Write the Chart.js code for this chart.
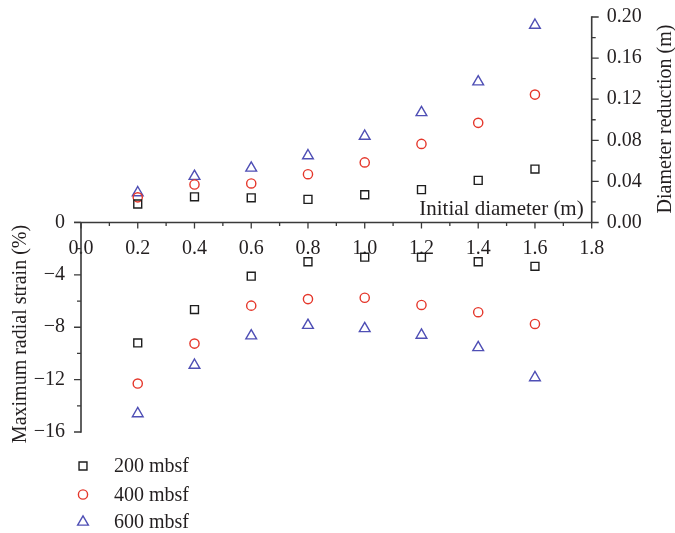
<!DOCTYPE html>
<html>
<head>
<meta charset="utf-8">
<script src="https://cdn.jsdelivr.net/npm/chart.js@4.4.1/dist/chart.umd.min.js"></script>
<style>
  html, body { margin: 0; padding: 0; background: #fff; }
</style>
</head>
<body>
<canvas id="chart" width="675" height="533"></canvas>
<script>
// Initial diameter (m)
const diameters = [0.2, 0.4, 0.6, 0.8, 1.0, 1.2, 1.4, 1.6];

// Diameter reduction (m), right axis
const reduction200 = [0.018, 0.025, 0.024, 0.0225, 0.027, 0.032, 0.041, 0.052];
const reduction400 = [0.0245, 0.037, 0.038, 0.047, 0.0585, 0.0765, 0.097, 0.1245];
const reduction600 = [0.029, 0.045, 0.053, 0.065, 0.084, 0.107, 0.137, 0.192];

// Maximum radial strain (%), left axis
const strain200 = [-9.2, -6.65, -4.1, -3.0, -2.65, -2.65, -3.0, -3.35];
const strain400 = [-12.3, -9.25, -6.35, -5.85, -5.75, -6.3, -6.85, -7.75];
const strain600 = [-14.6, -10.9, -8.65, -7.85, -8.1, -8.6, -9.55, -11.85];

const seriesNames = ["200 mbsf", "400 mbsf", "600 mbsf"];

// Ticks
const xTicks = [0, 0.2, 0.4, 0.6, 0.8, 1.0, 1.2, 1.4, 1.6, 1.8];
const xMinorTicks = [0.1, 0.3, 0.5, 0.7, 0.9, 1.1, 1.3, 1.5, 1.7];
const leftTicks = [-16, -12, -8, -4, 0];
const leftMinorTicks = [-14, -10, -6, -2];
const rightTicks = [0, 0.04, 0.08, 0.12, 0.16, 0.2];
const rightMinorTicks = [0.02, 0.06, 0.1, 0.14, 0.18];

const textColor = "#231f20";
const axisColor = "#3a3a3a";
const fontFamily = "'Liberation Serif', 'Times New Roman', serif";
const styles = [
  { color: "#1e1e1e", shape: "rect", radius: 5.6 },
  { color: "#e5372b", shape: "circle", radius: 4.6 },
  { color: "#4f4fb5", shape: "triangle", radius: 6.2 }
];

function toPoints(values) {
  return diameters.map((d, i) => ({ x: d, y: values[i] }));
}

function makeSet(label, values, idx, axis) {
  const s = styles[idx];
  return {
    label: label,
    data: toPoints(values),
    yAxisID: axis,
    pointStyle: s.shape,
    pointRadius: s.radius,
    pointBorderWidth: 1.4,
    pointBorderColor: s.color,
    pointBackgroundColor: "rgba(0,0,0,0)",
    borderColor: s.color,
    backgroundColor: "rgba(0,0,0,0)",
    showLine: false
  };
}

function noEdgePadding(s) {
  s.paddingTop = 0;
  s.paddingBottom = 0;
}

// Draws axis lines, tick marks, axis titles and the legend
const decorations = {
  id: "decorations",
  afterDraw(chart) {
    const ctx = chart.ctx;
    const x = chart.scales.x;
    const yL = chart.scales.yL;
    const yR = chart.scales.yR;
    const x0 = x.getPixelForValue(0);
    const x1 = x.getPixelForValue(1.8);
    const yZero = yL.getPixelForValue(0);

    ctx.save();
    ctx.strokeStyle = axisColor;
    ctx.lineWidth = 1.6;
    ctx.beginPath();
    ctx.moveTo(x0 - 7, yZero);
    ctx.lineTo(x1, yZero);
    ctx.moveTo(x0, yZero);
    ctx.lineTo(x0, yL.getPixelForValue(-16) + 0.8);
    ctx.moveTo(x1, yR.getPixelForValue(0));
    ctx.lineTo(x1, yR.getPixelForValue(0.2) - 0.8);
    ctx.stroke();

    ctx.lineWidth = 1.3;
    ctx.beginPath();
    xTicks.forEach(v => {
      const p = x.getPixelForValue(v);
      ctx.moveTo(p, yZero); ctx.lineTo(p, yZero + 6);
    });
    xMinorTicks.forEach(v => {
      const p = x.getPixelForValue(v);
      ctx.moveTo(p, yZero); ctx.lineTo(p, yZero + 3.5);
    });
    leftTicks.forEach(v => {
      const p = yL.getPixelForValue(v);
      ctx.moveTo(x0, p); ctx.lineTo(x0 - 7, p);
    });
    leftMinorTicks.forEach(v => {
      const p = yL.getPixelForValue(v);
      ctx.moveTo(x0, p); ctx.lineTo(x0 - 4, p);
    });
    rightTicks.forEach(v => {
      const p = yR.getPixelForValue(v);
      ctx.moveTo(x1, p); ctx.lineTo(x1 + 7, p);
    });
    rightMinorTicks.forEach(v => {
      const p = yR.getPixelForValue(v);
      ctx.moveTo(x1, p); ctx.lineTo(x1 + 4, p);
    });
    ctx.stroke();

    // axis titles
    ctx.fillStyle = textColor;
    ctx.font = "20px " + fontFamily;
    ctx.textBaseline = "middle";
    ctx.textAlign = "center";
    ctx.save();
    ctx.translate(21, 334);
    ctx.rotate(-Math.PI / 2);
    ctx.fillText("Maximum radial strain (%)", 0, 0);
    ctx.restore();
    ctx.save();
    ctx.translate(666, 119);
    ctx.rotate(-Math.PI / 2);
    ctx.fillText("Diameter reduction (m)", 0, 0);
    ctx.restore();
    ctx.textAlign = "right";
    ctx.textBaseline = "alphabetic";
    ctx.font = "21px " + fontFamily;
    ctx.fillText("Initial diameter (m)", x1 - 8, yZero - 7);

    // legend
    ctx.font = "20px " + fontFamily;
    ctx.textAlign = "left";
    ctx.textBaseline = "middle";
    const rows = [466, 494.5, 522];
    seriesNames.forEach((name, i) => {
      const s = styles[i];
      ctx.fillStyle = "rgba(0,0,0,0)";
      ctx.strokeStyle = s.color;
      ctx.lineWidth = 1.4;
      Chart.helpers.drawPoint(ctx, {
        pointStyle: s.shape,
        radius: s.radius,
        borderWidth: 1.4,
        rotation: 0
      }, 83, rows[i]);
      ctx.fillStyle = textColor;
      ctx.fillText(name, 114, rows[i] + 1);
    });
    ctx.restore();
  }
};

new Chart(document.getElementById("chart"), {
  type: "scatter",
  data: {
    datasets: [
      makeSet("200 mbsf", reduction200, 0, "yR"),
      makeSet("400 mbsf", reduction400, 1, "yR"),
      makeSet("600 mbsf", reduction600, 2, "yR"),
      makeSet("200 mbsf", strain200, 0, "yL"),
      makeSet("400 mbsf", strain400, 1, "yL"),
      makeSet("600 mbsf", strain600, 2, "yL")
    ]
  },
  options: {
    responsive: false,
    animation: false,
    layout: { padding: { top: 17, bottom: 101, left: 0, right: 0 } },
    plugins: {
      legend: { display: false },
      tooltip: { enabled: false }
    },
    scales: {
      x: {
        type: "linear",
        position: { yL: 0 },
        min: 0,
        max: 1.8,
        grid: { display: false, drawTicks: false },
        border: { display: false },
        afterBuildTicks: s => { s.ticks = xTicks.map(v => ({ value: v })); },
        ticks: {
          padding: 14,
          maxRotation: 0,
          color: textColor,
          font: { family: fontFamily, size: 20 },
          callback: v => v.toFixed(1)
        }
      },
      yL: {
        type: "linear",
        position: "left",
        min: -16,
        max: 15.69,
        grid: { display: false, drawTicks: false },
        border: { display: false },
        afterFit: s => { s.width = 81; noEdgePadding(s); },
        afterBuildTicks: s => { s.ticks = leftTicks.map(v => ({ value: v })); },
        ticks: {
          padding: 16,
          color: textColor,
          font: { family: fontFamily, size: 20 },
          callback: v => (v < 0 ? "\u2212" + Math.abs(v) : String(v))
        }
      },
      yR: {
        type: "linear",
        position: "right",
        min: -0.20389,
        max: 0.2,
        grid: { display: false, drawTicks: false },
        border: { display: false },
        afterFit: s => { s.width = 83.3; noEdgePadding(s); },
        afterBuildTicks: s => { s.ticks = rightTicks.map(v => ({ value: v })); },
        ticks: {
          padding: 15,
          color: textColor,
          font: { family: fontFamily, size: 20 },
          callback: v => v.toFixed(2)
        }
      }
    }
  },
  plugins: [decorations]
});
</script>
</body>
</html>
